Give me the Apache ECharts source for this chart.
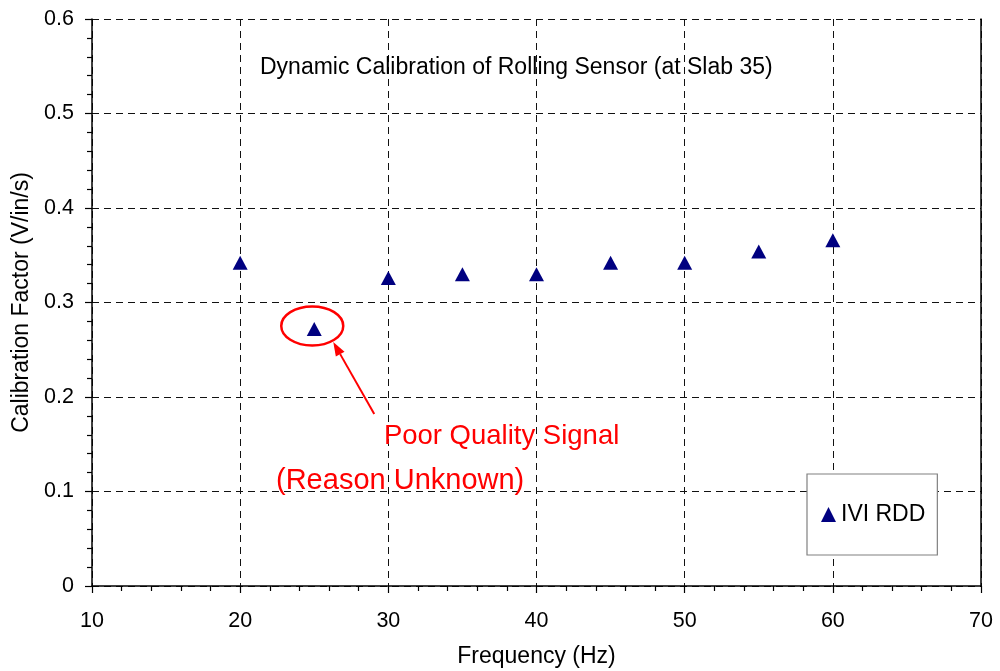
<!DOCTYPE html>
<html>
<head>
<meta charset="utf-8">
<script src="https://cdn.jsdelivr.net/npm/echarts@6/dist/echarts.min.js"></script>
<style>
html,body{margin:0;padding:0;background:#fff;}
#chart{width:1000px;height:671px;}
</style>
</head>
<body>
<div id="chart"></div>
<script>
// Data
var frequencies = [20, 25, 30, 35, 40, 45, 50, 55, 60];
var calibrationFactors = [0.342, 0.272, 0.326, 0.330, 0.330, 0.342, 0.342, 0.354, 0.366];
var seriesName = 'IVI RDD';
var chartTitle = 'Dynamic Calibration of Rolling Sensor (at Slab 35)';
var xAxisName = 'Frequency (Hz)';
var yAxisName = 'Calibration Factor (V/in/s)';
var noteLine1 = 'Poor Quality Signal';
var noteLine2 = '(Reason Unknown)';

var FONT = '"Liberation Sans", Arial, sans-serif';
var chart = echarts.init(document.getElementById('chart'));

var dash = { color: '#111', width: 1, type: [7, 5] };

var option = {
  backgroundColor: '#fff',
  animation: false,
  title: {
    text: chartTitle,
    left: 255, top: 51,
    textStyle: { fontFamily: FONT, fontSize: 23, fontWeight: 'normal', color: '#000' }
  },
  legend: {
    data: [{ name: seriesName, icon: 'triangle' }],
    left: 807, top: 474,
    orient: 'vertical',
    itemWidth: 15, itemHeight: 15,
    padding: [29, 12, 29, 14],
    borderColor: '#808080', borderWidth: 1.2,
    backgroundColor: '#fff',
    itemStyle: { color: '#000080', opacity: 1 },
    textStyle: { fontFamily: FONT, fontSize: 23, color: '#000' }
  },
  grid: { left: 92, right: 19, top: 19, bottom: 85, containLabel: false, outerBoundsMode: 'none' },
  xAxis: {
    type: 'value', min: 10, max: 70, interval: 10,
    name: xAxisName, nameLocation: 'middle', nameGap: 59,
    nameTextStyle: { fontFamily: FONT, fontSize: 23, color: '#000' },
    axisLine: { show: true, onZero: false, lineStyle: { color: '#000', width: 1.5 } },
    axisTick: { show: true, inside: false, length: 7, lineStyle: { color: '#000', width: 1.2 } },
    minorTick: { show: true, splitNumber: 5, length: 5, lineStyle: { color: '#000', width: 1.2 } },
    axisLabel: { fontFamily: FONT, fontSize: 21.5, color: '#000', margin: 24 },
    splitLine: { show: true, lineStyle: dash }
  },
  yAxis: [{
    type: 'value', min: 0, max: 0.6, interval: 0.1,
    name: yAxisName, nameLocation: 'middle', nameGap: 52,
    nameTextStyle: { fontFamily: FONT, fontSize: 23, color: '#000' },
    axisLine: { show: true, onZero: false, lineStyle: { color: '#000', width: 1.5 } },
    axisTick: { show: true, inside: false, length: 7, lineStyle: { color: '#000', width: 1.2 } },
    minorTick: { show: true, splitNumber: 5, length: 5, lineStyle: { color: '#000', width: 1.2 } },
    axisLabel: { fontFamily: FONT, fontSize: 21.5, color: '#000', margin: 18 },
    splitLine: { show: true, lineStyle: dash }
  }, {
    type: 'value', min: 0, max: 0.6, interval: 0.1, position: 'right',
    axisLine: { show: true, onZero: false, lineStyle: { color: '#000', width: 1.5 } },
    axisTick: { show: false }, axisLabel: { show: false }, splitLine: { show: false }
  }],
  series: [{
    name: seriesName,
    type: 'scatter',
    yAxisIndex: 0,
    symbol: 'triangle',
    symbolSize: [15, 14],
    itemStyle: { color: '#000080', opacity: 1 },
    data: frequencies.map(function (f, i) { return [f, calibrationFactors[i]]; }),
    z: 5
  }]
};
chart.setOption(option);

// Annotation anchored to data coordinates
function px(x, y) { return chart.convertToPixel({ gridIndex: 0 }, [x, y]); }
var outlier = px(frequencies[1], calibrationFactors[1]);
var tail = px(29.05, 0.182);
var head = [outlier[0] + 19, outlier[1] + 13];
var ang = Math.atan2(head[1] - tail[1], head[0] - tail[0]);
var hl = 14, hw = 5;
var bx = head[0] - hl * Math.cos(ang), by = head[1] - hl * Math.sin(ang);
var p1 = [bx + hw * Math.sin(ang), by - hw * Math.cos(ang)];
var p2 = [bx - hw * Math.sin(ang), by + hw * Math.cos(ang)];
var t1 = px(29.7, 0.158);
var t2 = px(22.42, 0.111);

chart.setOption({
  graphic: [
    { type: 'ellipse', shape: { cx: outlier[0] - 2, cy: outlier[1] - 3, rx: 31, ry: 19.5 },
      style: { fill: 'none', stroke: '#ff0000', lineWidth: 2.5 }, z: 10 },
    { type: 'line', shape: { x1: tail[0], y1: tail[1], x2: bx, y2: by },
      style: { stroke: '#ff0000', lineWidth: 2 }, z: 10 },
    { type: 'polygon', shape: { points: [head, p1, p2] },
      style: { fill: '#ff0000' }, z: 10 },
    { type: 'text', x: t1[0], y: t1[1],
      style: { text: noteLine1, fill: '#ff0000', font: '27.5px ' + FONT, textVerticalAlign: 'middle', textAlign: 'left' }, z: 10 },
    { type: 'text', x: t2[0], y: t2[1],
      style: { text: noteLine2, fill: '#ff0000', font: '29px ' + FONT, textVerticalAlign: 'middle', textAlign: 'left' }, z: 10 }
  ]
});
</script>
</body>
</html>
